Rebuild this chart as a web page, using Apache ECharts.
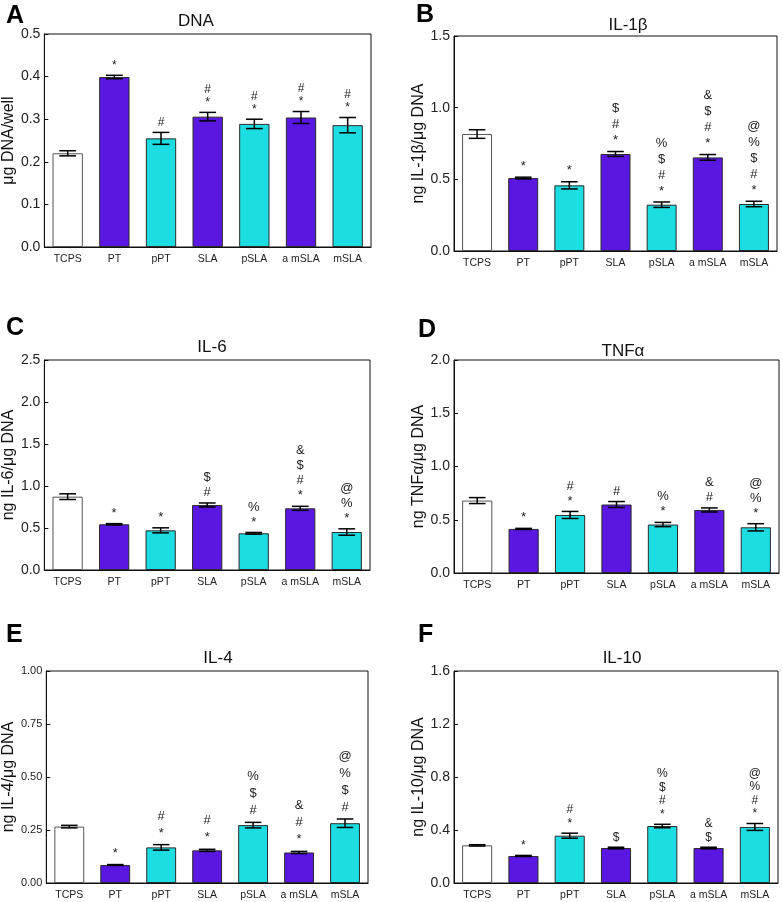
<!DOCTYPE html>
<html>
<head>
<meta charset="utf-8">
<script src="https://cdn.jsdelivr.net/npm/echarts@6/dist/echarts.min.js"></script>
<style>
  html, body { margin: 0; padding: 0; background: #fff; }
  #chart { width: 783px; height: 902px; }
</style>
</head>
<body>
<div id="chart"></div>
<script>
var categories = ['TCPS', 'PT', 'pPT', 'SLA', 'pSLA', 'a mSLA', 'mSLA'];

// mean values, error (SEM) and significance marks (top to bottom)
var dnaMean = [0.220, 0.399, 0.255, 0.306, 0.289, 0.304, 0.286];
var dnaErr = [0.006, 0.004, 0.014, 0.010, 0.011, 0.014, 0.018];
var dnaMarks = ['', '*', '#', '#*', '#*', '#*', '#*'];

var il1Mean = [0.816, 0.509, 0.458, 0.677, 0.323, 0.653, 0.328];
var il1Err = [0.030, 0.006, 0.025, 0.017, 0.019, 0.020, 0.019];
var il1Marks = ['', '*', '*', '$#*', '%$#*', '&$#*', '@%$#*'];

var il6Mean = [0.873, 0.544, 0.472, 0.774, 0.437, 0.734, 0.452];
var il6Err = [0.034, 0.008, 0.030, 0.024, 0.010, 0.024, 0.038];
var il6Marks = ['', '*', '*', '$#', '%*', '&$#*', '@%*'];

var tnfMean = [0.680, 0.414, 0.545, 0.643, 0.455, 0.592, 0.429];
var tnfErr = [0.028, 0.005, 0.033, 0.028, 0.020, 0.019, 0.034];
var tnfMarks = ['', '*', '#*', '#', '%*', '&#', '@%*'];

var il4Mean = [0.266, 0.085, 0.168, 0.154, 0.273, 0.144, 0.282];
var il4Err = [0.006, 0.002, 0.013, 0.005, 0.013, 0.005, 0.020];
var il4Marks = ['', '*', '#*', '#*', '%$#', '&#*', '@%$#'];

var il10Mean = [0.284, 0.204, 0.357, 0.264, 0.430, 0.264, 0.423];
var il10Err = [0.005, 0.004, 0.019, 0.006, 0.013, 0.006, 0.026];
var il10Marks = ['', '*', '#*', '$', '%$#*', '&$', '@%#*'];

var yMax = [0.5, 1.5, 2.5, 2.0, 1.0, 1.6];
var yStep = [0.1, 0.5, 0.5, 0.5, 0.25, 0.4];
var yDigits = [1, 1, 1, 1, 2, 1];
var yNames = ['\u03bcg DNA/well', 'ng IL-1\u03b2/\u03bcg DNA', 'ng IL-6/\u03bcg DNA',
              'ng TNF\u03b1/\u03bcg DNA', 'ng IL-4/\u03bcg DNA', 'ng IL-10/\u03bcg DNA'];
var titles = ['DNA', 'IL-1\u03b2', 'IL-6', 'TNF\u03b1', 'IL-4', 'IL-10'];
var letters = ['A', 'B', 'C', 'D', 'E', 'F'];

var means = [dnaMean, il1Mean, il6Mean, tnfMean, il4Mean, il10Mean];
var errs = [dnaErr, il1Err, il6Err, tnfErr, il4Err, il10Err];
var marks = [dnaMarks, il1Marks, il6Marks, tnfMarks, il4Marks, il10Marks];

// layout of each panel
var grids = [
  { left: 44, top: 34, width: 327, height: 213 },
  { left: 454, top: 36, width: 323, height: 215 },
  { left: 44, top: 360, width: 326, height: 210 },
  { left: 454, top: 360, width: 325, height: 213 },
  { left: 46, top: 671, width: 322, height: 212 },
  { left: 454, top: 671, width: 324, height: 212 }
];
var titlePos = [[191, 8], [623, 12], [207, 334], [618, 338], [213, 645], [617, 645]];
var letterPos = [[1, -1], [411, -2], [1, 311], [413, 313], [1, 618], [413, 618]];
var nameGaps = [25, 24, 24, 24, 26, 24];
var markLine = [13, 16, 15, 15, 17, 13.5];
var markSize = [12, 13, 13, 13, 13, 12];
var tickSize = [14, 14, 14, 14, 11, 14];

var PURPLE = '#5b17e2';
var CYAN = '#1bdde2';
var FONT = '"Liberation Sans", Arial, sans-serif';

function barColor(i) {
  if (i === 0) return '#ffffff';
  return i % 2 === 1 ? PURPLE : CYAN;
}

var chart = echarts.init(document.getElementById('chart'));

var option = {
  backgroundColor: '#fff',
  textStyle: { fontFamily: FONT },
  title: [],
  grid: [],
  xAxis: [],
  yAxis: [],
  series: []
};

for (var p = 0; p < 6; p++) {
  option.title.push({
    text: titles[p],
    left: titlePos[p][0], top: titlePos[p][1],
    textAlign: 'center',
    textStyle: { fontFamily: FONT, fontSize: 17, fontWeight: 'normal', color: '#111' }
  });
  option.title.push({
    text: letters[p],
    left: letterPos[p][0], top: letterPos[p][1],
    textStyle: { fontFamily: FONT, fontSize: 25, fontWeight: 'bold', color: '#000' }
  });
  option.grid.push(Object.assign({ show: true, borderColor: '#111', borderWidth: 1, backgroundColor: 'transparent' }, grids[p]));
  option.xAxis.push({
    type: 'category', gridIndex: p, data: categories,
    axisLine: { lineStyle: { color: '#111', width: 1 } },
    axisTick: { show: false },
    axisLabel: { interval: 0, fontSize: 10.5, color: '#222', margin: 7, fontFamily: FONT }
  });
  (function (digits) {
    option.yAxis.push({
      type: 'value', gridIndex: p, min: 0, max: yMax[p], interval: yStep[p],
      name: yNames[p], nameLocation: 'middle', nameGap: nameGaps[p],
      nameTextStyle: { fontSize: 16, color: '#111', fontFamily: FONT },
      axisLine: { show: true, lineStyle: { color: '#111', width: 1 } },
      axisTick: { show: true, inside: true, length: 4, lineStyle: { color: '#111' } },
      splitLine: { show: false },
      axisLabel: {
        fontSize: tickSize[p], color: '#222', margin: 4, fontFamily: FONT,
        formatter: function (v) { return v.toFixed(digits); }
      }
    });
  })(yDigits[p]);

  option.series.push({
    type: 'bar', xAxisIndex: p, yAxisIndex: p, barWidth: '65%',
    data: means[p].map(function (v, i) {
      return {
        value: v,
        itemStyle: {
          color: barColor(i),
          borderColor: i === 0 ? '#555' : '#2a2a2a',
          borderWidth: 1
        }
      };
    }),
    z: 2
  });

  (function (panel) {
    option.series.push({
      type: 'custom', xAxisIndex: panel, yAxisIndex: panel, z: 5,
      data: means[panel].map(function (v, i) { return [i, v, errs[panel][i]]; }),
      renderItem: function (params, api) {
        var i = api.value(0);
        var m = api.value(1);
        var e = api.value(2);
        var top = api.coord([i, m + e]);
        var bot = api.coord([i, m - e]);
        var cap = api.size([1, 0])[0] * 0.18;
        var x = top[0];
        var st = { stroke: '#000', lineWidth: 1.5 };
        var children = [
          { type: 'line', shape: { x1: x, y1: top[1], x2: x, y2: bot[1] }, style: st },
          { type: 'line', shape: { x1: x - cap, y1: top[1], x2: x + cap, y2: top[1] }, style: st },
          { type: 'line', shape: { x1: x - cap, y1: bot[1], x2: x + cap, y2: bot[1] }, style: st }
        ];
        var mk = marks[panel][i];
        if (mk) {
          children.push({
            type: 'text',
            style: {
              text: mk.split('').join('\n'),
              x: x, y: top[1] - 3,
              textAlign: 'center', textVerticalAlign: 'bottom',
              fontSize: markSize[panel], lineHeight: markLine[panel],
              fontFamily: FONT, fill: '#222'
            }
          });
        }
        return { type: 'group', children: children };
      }
    });
  })(p);
}

chart.setOption(option);
</script>
</body>
</html>
